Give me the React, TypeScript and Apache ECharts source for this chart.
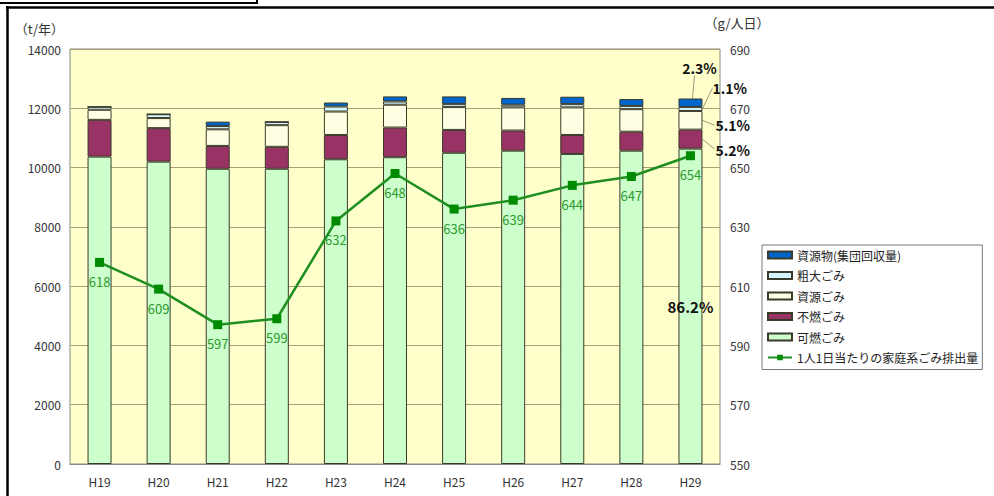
import React, { useEffect, useRef } from "react";
import * as echarts from "echarts";

const categories = ["H19", "H20", "H21", "H22", "H23", "H24", "H25", "H26", "H27", "H28", "H29"];
const kanen = [10370, 10200, 9960, 9960, 10280, 10350, 10500, 10570, 10460, 10570, 10640];
const funen = [1240, 1130, 770, 740, 820, 1000, 770, 680, 640, 640, 640];
const shigen = [340, 340, 560, 730, 790, 770, 770, 780, 930, 760, 630];
const sodai = [100, 130, 110, 110, 170, 110, 100, 90, 110, 110, 135];
const shigenbutsu = [0, 0, 150, 0, 135, 170, 260, 230, 250, 230, 285];
const perCapita = [618, 609, 597, 599, 632, 648, 636, 639, 644, 647, 654];
const shareLabels = { kanen: "86.2%", funen: "5.2%", shigen: "5.1%", sodai: "1.1%", shigenbutsu: "2.3%" };
const leftTicks = { min: 0, max: 14000, interval: 2000 };
const rightTicks = { min: 550, max: 690, interval: 20 };

const FONT = "'Noto Sans CJK JP', 'Noto Sans', sans-serif";

export default function App() {
  const ref = useRef<HTMLDivElement>(null);
  useEffect(() => {
    if (!ref.current) return;
    const chart = echarts.init(ref.current, undefined, { renderer: "svg" });
    const barBorder = { borderColor: "#3a3a2a", borderWidth: 1 };
    const lastIdx = categories.length - 1;
    const barSeries = (name: string, data: number[], color: string, extra: any = {}) => ({
      name,
      type: "bar",
      stack: "total",
      data,
      barWidth: 24,
      itemStyle: { color, ...barBorder },
      emphasis: { disabled: true },
      ...extra,
    });
    chart.setOption({
      animation: false,
      textStyle: { fontFamily: FONT },
      grid: {
        left: 70,
        right: 274,
        top: 49,
        bottom: 32,
        show: true,
        backgroundColor: "#FFFFCC",
        borderColor: "#8a8a80",
        borderWidth: 1,
      },
      legend: {
        orient: "vertical",
        left: 762,
        top: 245,
        padding: [3, 4, 5, 5],
        itemWidth: 24,
        itemHeight: 7,
        itemGap: 6.5,
        backgroundColor: "#fff",
        borderColor: "#777",
        borderWidth: 1,
        borderRadius: 0,
        textStyle: { fontSize: 12, color: "#222", fontFamily: FONT, lineHeight: 14 },
        data: [
          { name: "資源物(集団回収量)", icon: "rect" },
          { name: "粗大ごみ", icon: "rect" },
          { name: "資源ごみ", icon: "rect" },
          { name: "不燃ごみ", icon: "rect" },
          { name: "可燃ごみ", icon: "rect" },
          { name: "1人1日当たりの家庭系ごみ排出量" },
        ],
      },
      xAxis: {
        type: "category",
        data: categories,
        boundaryGap: true,
        axisLine: { lineStyle: { color: "#888" } },
        axisTick: { inside: true, length: 4, lineStyle: { color: "#888" } },
        axisLabel: { color: "#333", fontSize: 12, margin: 11, fontFamily: FONT },
      },
      yAxis: [
        {
          type: "value",
          ...leftTicks,
          name: "（t/年）",
          nameLocation: "end",
          nameGap: 14,
          nameTextStyle: { color: "#333", fontSize: 13, align: "right", padding: [0, 6, 0, 0], fontFamily: FONT },
          axisLine: { show: false },
          axisTick: { show: false },
          axisLabel: { color: "#333", fontSize: 12, margin: 9, fontFamily: FONT, formatter: (v: number) => String(v) },
          splitLine: { lineStyle: { color: "#a8a07a", width: 1 } },
        },
        {
          type: "value",
          ...rightTicks,
          name: "（g/人日）",
          nameLocation: "end",
          nameGap: 20,
          nameTextStyle: { color: "#333", fontSize: 13, align: "center", padding: [0, 0, 0, 34], fontFamily: FONT },
          axisLine: { show: false },
          axisTick: { show: false },
          axisLabel: { color: "#333", fontSize: 12, margin: 10, fontFamily: FONT, formatter: (v: number) => String(v) },
          splitLine: { show: false },
        },
      ],
      series: [
        barSeries("可燃ごみ", kanen, "#CCFFCC", {
          label: {
            show: true,
            position: "inside",
            formatter: (p: any) => (p.dataIndex === lastIdx ? shareLabels.kanen : ""),
            color: "#111",
            fontWeight: "bold",
            fontSize: 15,
            fontFamily: FONT,
          },
        }),
        barSeries("不燃ごみ", funen, "#993366"),
        barSeries("資源ごみ", shigen, "#FFFFE4"),
        barSeries("粗大ごみ", sodai, "#D4F6FF"),
        barSeries("資源物(集団回収量)", shigenbutsu, "#0066CC"),
        {
          name: "1人1日当たりの家庭系ごみ排出量",
          type: "line",
          yAxisIndex: 1,
          data: perCapita,
          symbol: "rect",
          symbolSize: 9,
          lineStyle: { color: "#1f8f1f", width: 2.5 },
          itemStyle: { color: "#008a00" },
          label: {
            show: true,
            position: "bottom",
            distance: 8,
            color: "#2f9a2f",
            fontSize: 13,
            fontFamily: FONT,
          },
          z: 5,
        },
      ],
    });

    const c1 = kanen[lastIdx];
    const c2 = c1 + funen[lastIdx];
    const c3 = c2 + shigen[lastIdx];
    const c4 = c3 + sodai[lastIdx];
    const c5 = c4 + shigenbutsu[lastIdx];
    const cx = chart.convertToPixel({ xAxisIndex: 0 }, categories[lastIdx]) as number;
    const y = (v: number) => chart.convertToPixel({ yAxisIndex: 0 }, v) as number;
    const right = cx + 12;
    const funenMid = (y(c1) + y(c2)) / 2;
    const shigenMid = (y(c2) + y(c3)) / 2;
    const sodaiMid = (y(c3) + y(c4)) / 2;
    const top = y(c5);
    const leader = { stroke: "#a09a80", lineWidth: 1 };
    const pctStyle = (text: string, align: string) => ({
      text,
      fill: "#111",
      fontSize: 14,
      fontWeight: "bold",
      fontFamily: FONT,
      textAlign: align,
      textVerticalAlign: "middle",
    });

    chart.setOption({
      graphic: [
        { type: "line", silent: true, shape: { x1: 0, y1: 3, x2: 258, y2: 3 }, style: { stroke: "#000", lineWidth: 2 } },
        { type: "line", silent: true, shape: { x1: 257, y1: 0, x2: 257, y2: 3 }, style: { stroke: "#000", lineWidth: 2 } },
        { type: "line", silent: true, shape: { x1: 6, y1: 7.5, x2: 994, y2: 7.5 }, style: { stroke: "#000", lineWidth: 2.5 } },
        { type: "line", silent: true, shape: { x1: 7.5, y1: 6, x2: 7.5, y2: 496 }, style: { stroke: "#000", lineWidth: 2.5 } },
        { type: "line", silent: true, shape: { x1: cx + 4, y1: top - 23, x2: cx + 2, y2: top }, style: leader },
        { type: "text", silent: true, x: cx + 9, y: top - 31, style: pctStyle(shareLabels.shigenbutsu, "center") },
        { type: "line", silent: true, shape: { x1: right, y1: sodaiMid, x2: right + 10, y2: sodaiMid - 21 }, style: leader },
        { type: "text", silent: true, x: right + 10, y: sodaiMid - 21, style: pctStyle(shareLabels.sodai, "left") },
        { type: "line", silent: true, shape: { x1: right, y1: shigenMid, x2: right + 12, y2: shigenMid + 5 }, style: leader },
        { type: "text", silent: true, x: right + 13, y: shigenMid + 5, style: pctStyle(shareLabels.shigen, "left") },
        { type: "line", silent: true, shape: { x1: right, y1: funenMid, x2: right + 12, y2: funenMid + 10 }, style: leader },
        { type: "text", silent: true, x: right + 13, y: funenMid + 11, style: pctStyle(shareLabels.funen, "left") },
      ],
    });

    return () => chart.dispose();
  }, []);
  return (
    <div
      ref={ref}
      style={{ position: "fixed", left: 0, top: 0, width: 994, height: 496, background: "#fff" }}
    />
  );
}
